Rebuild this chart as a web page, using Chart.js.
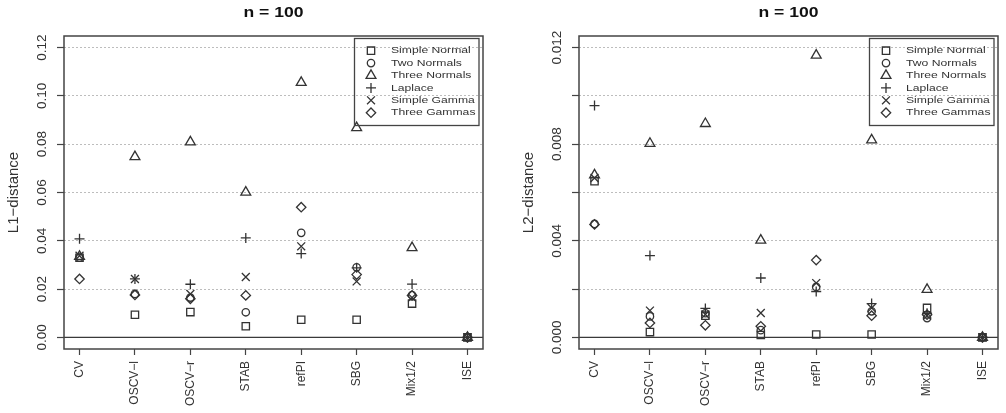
<!DOCTYPE html>
<html>
<head>
<meta charset="utf-8">
<script src="https://cdn.jsdelivr.net/npm/chart.js"></script>
<style>
  html, body { margin: 0; padding: 0; background: #fff; }
  .panel { position: absolute; top: 0; width: 503px; height: 413px; }
</style>
</head>
<body>
<div class="panel" style="left:0"><canvas id="l1" width="503" height="413"></canvas></div>
<div class="panel" style="left:503px"><canvas id="l2" width="503" height="413"></canvas></div>
<script>
// categories (methods) and series (densities)
const methods = ['CV', 'OSCV\u2212l', 'OSCV\u2212r', 'STAB', 'refPI', 'SBG', 'Mix1/2', 'ISE'];
const seriesNames = ['Simple Normal', 'Two Normals', 'Three Normals', 'Laplace', 'Simple Gamma', 'Three Gammas'];

// L1-distance, n = 100
const l1SimpleNormal = [0.033, 0.0094, 0.0105, 0.0046, 0.0073, 0.0073, 0.014, 0];
const l1TwoNormals   = [0.033, 0.018, 0.0165, 0.0104, 0.0433, 0.029, 0.0175, 0];
const l1ThreeNormals = [0.0335, 0.0748, 0.0809, 0.0601, 0.1055, 0.0868, 0.0371, 0];
const l1Laplace      = [0.0408, 0.0242, 0.022, 0.0412, 0.0347, 0.0288, 0.0221, 0];
const l1SimpleGamma  = [0.0338, 0.0242, 0.018, 0.025, 0.0377, 0.0232, 0.0165, 0];
const l1ThreeGammas  = [0.0242, 0.0176, 0.016, 0.0174, 0.0539, 0.026, 0.0174, 0];

// L2-distance, n = 100
const l2SimpleNormal = [0.00647, 0.00022, 0.0009, 0.0001, 0.00012, 0.00012, 0.00122, 0];
const l2TwoNormals   = [0.0047, 0.00087, 0.001, 0.0003, 0.00209, 0.00108, 0.0008, 0];
const l2ThreeNormals = [0.00672, 0.00803, 0.00885, 0.00402, 0.01168, 0.00817, 0.00198, 0];
const l2Laplace      = [0.0096, 0.00339, 0.0012, 0.00246, 0.0019, 0.0014, 0.001, 0];
const l2SimpleGamma  = [0.0066, 0.00111, 0.00095, 0.00101, 0.00225, 0.00122, 0.0009, 0];
const l2ThreeGammas  = [0.00468, 0.0006, 0.0005, 0.00046, 0.0032, 0.0009, 0.00094, 0];

// y ticks
const l1Ticks = [0, 0.02, 0.04, 0.06, 0.08, 0.10, 0.12];
const l1TickLabels = ['0.00', '0.02', '0.04', '0.06', '0.08', '0.10', '0.12'];
const l2Ticks = [0, 0.002, 0.004, 0.006, 0.008, 0.010, 0.012];
const l2TickLabels = ['0.000', '', '0.004', '', '0.008', '', '0.012'];

const FONT = '"Liberation Sans", Arial, Helvetica, sans-serif';
const INK = '#333';
Chart.defaults.font.family = FONT;
Chart.defaults.color = INK;

const symbols = [
  { pointStyle: 'rect', radius: 5.2 },
  { pointStyle: 'circle', radius: 3.7 },
  { pointStyle: 'triangle', radius: 5.7 },
  { pointStyle: 'cross', radius: 5 },
  { pointStyle: 'crossRot', radius: 5.6 },
  { pointStyle: 'rectRot', radius: 4.7 },
];

function drawSymbol(ctx, sym, x, y) {
  ctx.save();
  ctx.strokeStyle = INK;
  ctx.fillStyle = 'rgba(0,0,0,0)';
  ctx.lineWidth = 1.3;
  Chart.helpers.drawPoint(ctx, { pointStyle: sym.pointStyle, radius: sym.radius, rotation: 0, borderWidth: 1.3 }, x, y);
  ctx.restore();
}

// R-style decorations: title, box, zero line, rotated y labels, legend
const rDecor = {
  id: 'rDecor',
  beforeDatasetsDraw(chart, args, o) {
    const { ctx, chartArea: a } = chart;
    const y0 = chart.scales.y.getPixelForValue(0);
    ctx.save();
    ctx.strokeStyle = '#3a3a3a';
    ctx.lineWidth = 1.4;
    ctx.beginPath();
    ctx.moveTo(a.left, y0);
    ctx.lineTo(a.right, y0);
    ctx.stroke();
    ctx.restore();
  },
  afterDraw(chart, args, o) {
    const { ctx, chartArea: a } = chart;
    const ys = chart.scales.y;
    ctx.save();
    // plot box
    ctx.strokeStyle = '#444';
    ctx.lineWidth = 1.5;
    ctx.strokeRect(a.left, a.top, a.right - a.left, a.bottom - a.top);

    // title
    ctx.fillStyle = '#111';
    ctx.font = 'bold 15px ' + FONT;
    ctx.textAlign = 'center';
    ctx.textBaseline = 'middle';
    ctx.save();
    ctx.translate((a.left + a.right) / 2, 12.5);
    ctx.scale(1.17, 1);
    ctx.fillText(o.title, 0, 0);
    ctx.restore();

    // y tick labels, parallel to the axis
    ctx.fillStyle = INK;
    ctx.font = '13.5px ' + FONT;
    o.ticks.forEach((v, i) => {
      if (!o.tickLabels[i]) return;
      ctx.save();
      ctx.translate(a.left - 22, ys.getPixelForValue(v));
      ctx.rotate(-Math.PI / 2);
      ctx.fillText(o.tickLabels[i], 0, 0);
      ctx.restore();
    });

    // legend
    const bx = a.right - 128.5, by = a.top + 2.5;
    ctx.strokeStyle = '#444';
    ctx.lineWidth = 1.3;
    ctx.strokeRect(bx, by, 124.5, 87);
    ctx.font = '9.5px ' + FONT;
    ctx.textAlign = 'left';
    seriesNames.forEach((name, i) => {
      const y = a.top + 14.7 + i * 12.4;
      drawSymbol(ctx, symbols[i], a.right - 112, y);
      ctx.save();
      ctx.translate(a.right - 92, y);
      ctx.scale(1.28, 1);
      ctx.fillStyle = INK;
      ctx.fillText(name, 0, 0);
      ctx.restore();
    });
    ctx.restore();
  }
};

function makePanel(id, cfg) {
  const datasets = cfg.series.map((vals, i) => ({
    label: seriesNames[i],
    data: vals.map((v, j) => ({ x: j + 1, y: v })),
    pointStyle: symbols[i].pointStyle,
    pointRadius: symbols[i].radius,
    pointBorderWidth: 1.3,
    borderColor: INK,
    backgroundColor: 'rgba(0,0,0,0)',
  }));
  return new Chart(document.getElementById(id), {
    type: 'scatter',
    data: { datasets },
    plugins: [rDecor],
    options: {
      responsive: false,
      animation: false,
      layout: { padding: { left: 0, right: cfg.padRight, top: 36, bottom: 0 } },
      plugins: {
        legend: { display: false },
        tooltip: { enabled: false },
        rDecor: { title: 'n = 100', ticks: cfg.ticks, tickLabels: cfg.tickLabels },
      },
      scales: {
        x: {
          type: 'linear',
          min: 0.72,
          max: 8.28,
          afterBuildTicks: s => { s.ticks = methods.map((m, i) => ({ value: i + 1 })); },
          afterFit: s => { s.height = 64; },
          ticks: {
            autoSkip: false,
            minRotation: 90,
            maxRotation: 90,
            padding: 6,
            color: INK,
            font: { size: 12 },
            callback: v => methods[v - 1],
          },
          grid: { drawOnChartArea: false, drawTicks: true, tickLength: 6, tickColor: '#444', tickWidth: 1.2 },
          border: { display: false },
        },
        y: {
          min: cfg.yMin,
          max: cfg.yMax,
          afterBuildTicks: s => { s.ticks = cfg.ticks.map(v => ({ value: v })); },
          afterFit: s => { s.width = cfg.axisWidth; },
          ticks: { display: false },
          grid: {
            color: c => (c.tick && c.tick.value === 0 ? 'rgba(0,0,0,0)' : '#bdbdbd'),
            lineWidth: 1,
            drawTicks: true,
            tickLength: 7,
            tickColor: '#444',
            tickWidth: 1.2,
          },
          border: { display: false, dash: [2, 2] },
          title: {
            display: true,
            text: cfg.yTitle,
            font: { size: 15 },
            color: INK,
            padding: { top: cfg.titlePad, bottom: 0 },
          },
        },
      },
    },
  });
}

makePanel('l1', {
  series: [l1SimpleNormal, l1TwoNormals, l1ThreeNormals, l1Laplace, l1SimpleGamma, l1ThreeGammas],
  yMin: -0.0048, yMax: 0.1248,
  ticks: l1Ticks, tickLabels: l1TickLabels,
  yTitle: 'L1\u2212distance',
  axisWidth: 64, padRight: 20, titlePad: 5,
});

makePanel('l2', {
  series: [l2SimpleNormal, l2TwoNormals, l2ThreeNormals, l2Laplace, l2SimpleGamma, l2ThreeGammas],
  yMin: -0.00048, yMax: 0.01248,
  ticks: l2Ticks, tickLabels: l2TickLabels,
  yTitle: 'L2\u2212distance',
  axisWidth: 76, padRight: 8, titlePad: 17,
});
</script>
</body>
</html>
